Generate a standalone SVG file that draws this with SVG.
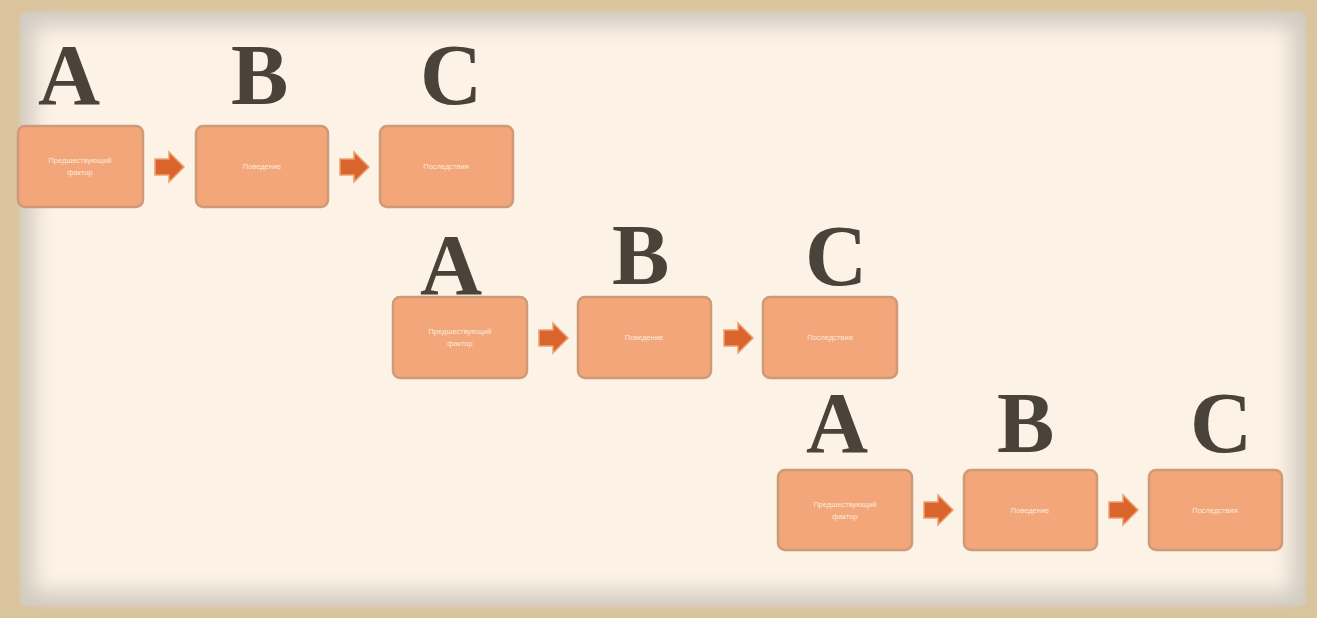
<svg xmlns="http://www.w3.org/2000/svg" width="1317" height="618" viewBox="0 0 1317 618">
<defs>
<filter id="soft" x="-5%" y="-5%" width="110%" height="110%"><feGaussianBlur stdDeviation="10"/></filter>
<filter id="bl" x="-5%" y="-5%" width="110%" height="110%"><feGaussianBlur stdDeviation="1.2"/></filter>
<path id="arr" d="M0,-8 H14 V-15 L29,0 L14,15 V8 H0 Z"/>
</defs>
<style>
.box{fill:#f2a679;stroke:#cf9a78;stroke-width:2.5}
.lt{font-family:"Liberation Serif",serif;font-weight:bold;font-size:86px;fill:#4a433a}
.bt{font-family:"Liberation Sans",sans-serif;font-size:7.5px;fill:#fde9da;text-anchor:middle}
.ar{fill:#d9642c;stroke:#eea070;stroke-width:1.5}
</style>
<rect width="1317" height="618" fill="#d9c49d"/>
<rect x="20" y="12" width="1286" height="594" rx="6" fill="#d2cbc1" filter="url(#bl)"/>
<rect x="34" y="26" width="1258" height="566" fill="#fcf2e5" filter="url(#soft)"/>
<rect x="60" y="50" width="1210" height="520" fill="#fcf2e5"/>
<g id="row1-letters">
<text class="lt" x="38" y="104">A</text>
<text class="lt" x="231" y="104">B</text>
<text class="lt" x="420" y="104">C</text>
</g>
<g id="n1a"><rect class="box" x="18" y="126" width="125" height="81" rx="7"/><text class="bt" x="80" y="163">Предшествующий</text><text class="bt" x="80" y="175">фактор</text></g>
<g id="n1b"><rect class="box" x="196" y="126" width="132" height="81" rx="7"/><text class="bt" x="262" y="169">Поведение</text></g>
<g id="n1c"><rect class="box" x="380" y="126" width="133" height="81" rx="7"/><text class="bt" x="446" y="169">Последствия</text></g>
<g id="row2-letters">
<text class="lt" x="420" y="294">A</text>
<text class="lt" x="612" y="284">B</text>
<text class="lt" x="805" y="285">C</text>
</g>
<g id="n2a"><rect class="box" x="393" y="297" width="134" height="81" rx="7"/><text class="bt" x="460" y="334">Предшествующий</text><text class="bt" x="460" y="346">фактор</text></g>
<g id="n2b"><rect class="box" x="578" y="297" width="133" height="81" rx="7"/><text class="bt" x="644" y="340">Поведение</text></g>
<g id="n2c"><rect class="box" x="763" y="297" width="134" height="81" rx="7"/><text class="bt" x="830" y="340">Последствия</text></g>
<g id="row3-letters">
<text class="lt" x="806" y="452">A</text>
<text class="lt" x="997" y="452">B</text>
<text class="lt" x="1190" y="452">C</text>
</g>
<g id="n3a"><rect class="box" x="778" y="470" width="134" height="80" rx="7"/><text class="bt" x="845" y="507">Предшествующий</text><text class="bt" x="845" y="519">фактор</text></g>
<g id="n3b"><rect class="box" x="964" y="470" width="133" height="80" rx="7"/><text class="bt" x="1030" y="513">Поведение</text></g>
<g id="n3c"><rect class="box" x="1149" y="470" width="133" height="80" rx="7"/><text class="bt" x="1215" y="513">Последствия</text></g>
<g id="connectors">
<use href="#arr" class="ar" transform="translate(155,167)"/>
<use href="#arr" class="ar" transform="translate(340,167)"/>
<use href="#arr" class="ar" transform="translate(539,338)"/>
<use href="#arr" class="ar" transform="translate(724,338)"/>
<use href="#arr" class="ar" transform="translate(924,510)"/>
<use href="#arr" class="ar" transform="translate(1109,510)"/>
</g>
</svg>
